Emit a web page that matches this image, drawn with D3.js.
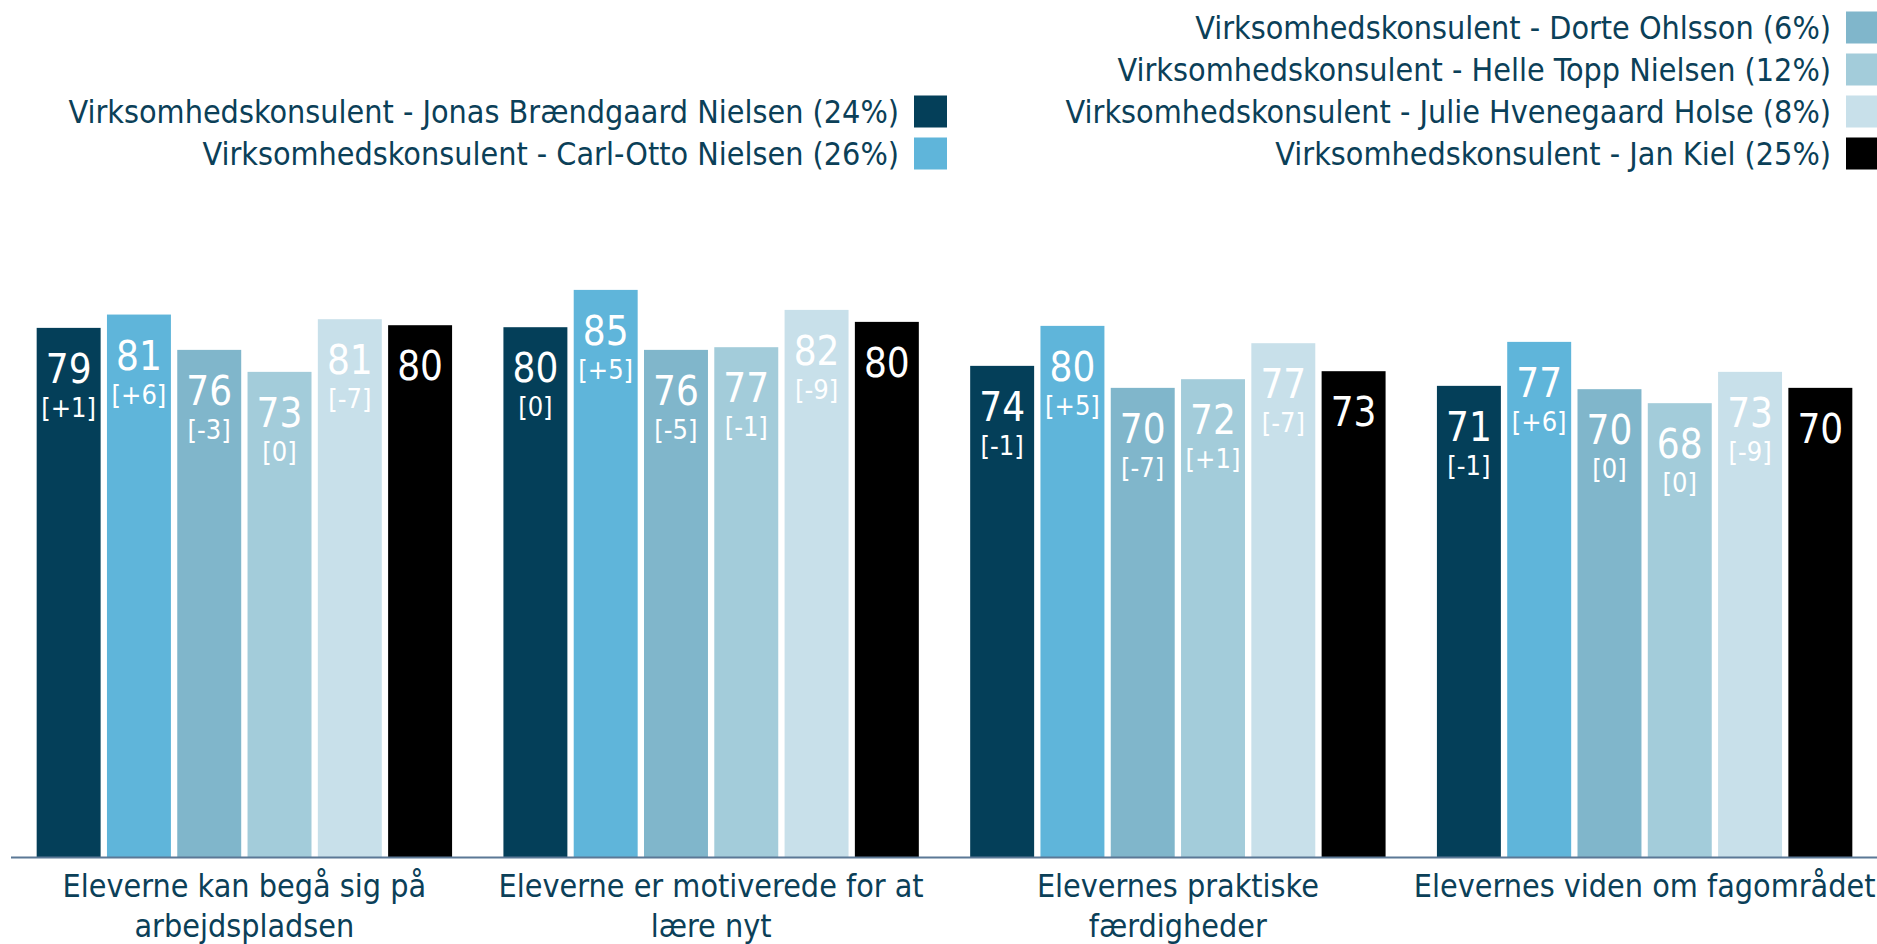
<!DOCTYPE html>
<html lang="da">
<head>
    <meta charset="UTF-8">
    <title>Virksomhedskonsulenter</title>
    <script src="https://cdn.jsdelivr.net/npm/d3@7/dist/d3.min.js"></script>
    <style>
        body{margin: 0; background: #fff}
        svg text{
            font-family: "DejaVu Sans Condensed", "DejaVu Sans", sans-serif;
            font-stretch: condensed;
        }
        .legend text, .cat text{fill: #0b4058; font-size: 32px}
        .val{fill: #fff; font-size: 40px}
        .delta{fill: #fff; font-size: 27px}
    </style>
</head>
<body>
    <svg></svg>
    <script>
        // categories on the x axis (\n = line break in the label)
        var categories = [
            'Eleverne kan begå sig på\narbejdspladsen',
            'Eleverne er motiverede for at\nlære nyt',
            'Elevernes praktiske\nfærdigheder',
            'Elevernes viden om fagområdet'
        ]
        var seriesNames = [
            'Virksomhedskonsulent - Jonas Brændgaard Nielsen (24%)',
            'Virksomhedskonsulent - Carl-Otto Nielsen (26%)',
            'Virksomhedskonsulent - Dorte Ohlsson (6%)',
            'Virksomhedskonsulent - Helle Topp Nielsen (12%)',
            'Virksomhedskonsulent - Julie Hvenegaard Holse (8%)',
            'Virksomhedskonsulent - Jan Kiel (25%)'
        ]
        var colors = ['#043f59', '#5fb5da', '#80b6cb', '#a3ccda', '#c8e0ea', '#000000']

        // one value list per consultant (order follows categories)
        var jonas    = [79.4, 79.5, 73.7, 70.7]
        var carlOtto = [81.4, 85.1, 79.7, 77.3]
        var dorte    = [76.1, 76.1, 70.4, 70.2]
        var helle    = [72.8, 76.5, 71.7, 68.1]
        var julie    = [80.7, 82.1, 77.1, 72.8]
        var janKiel  = [79.8, 80.3, 72.9, 70.4]

        // change since last time, null = not shown
        var jonasDelta    = ['+1', '0', '-1', '-1']
        var carlOttoDelta = ['+6', '+5', '+5', '+6']
        var dorteDelta    = ['-3', '-5', '-7', '0']
        var helleDelta    = ['0', '-1', '+1', '0']
        var julieDelta    = ['-7', '-9', '-7', '-9']
        var janKielDelta  = [null, null, null, null]

        var values = [jonas, carlOtto, dorte, helle, julie, janKiel]
        var deltas = [jonasDelta, carlOttoDelta, dorteDelta, helleDelta, julieDelta, janKielDelta]

        var width = 1877, height = 944
        var baseY = 857

        var svg = d3.select('svg')
            .attr('width', width)
            .attr('height', height)

        // scales
        var x0 = d3.scaleBand()
            .domain(categories)
            .range([11, 1878])
            .paddingInner(0.11)
            .paddingOuter(0.055)
        var x1 = d3.scaleBand()
            .domain(d3.range(seriesNames.length))
            .range([0, x0.bandwidth()])
            .paddingInner(0.09)
        var y = d3.scaleLinear()
            .domain([0, 100])
            .range([baseY, 190.6])

        // bars
        var groups = svg.append('g').selectAll('g')
            .data(categories)
            .enter()
            .append('g')
            .attr('transform', d => `translate(${x0(d)},0)`)

        var cells = groups.selectAll('g')
            .data((c, ci) => values.map((s, si) => ({si: si, v: s[ci], d: deltas[si][ci]})))
            .enter()
            .append('g')

        cells.append('rect')
            .attr('x', d => x1(d.si))
            .attr('y', d => y(d.v))
            .attr('width', x1.bandwidth())
            .attr('height', d => baseY - y(d.v))
            .attr('fill', d => colors[d.si])

        cells.append('text')
            .attr('class', 'val')
            .attr('text-anchor', 'middle')
            .attr('x', d => x1(d.si) + x1.bandwidth() / 2)
            .attr('y', d => y(d.v) + 55)
            .text(d => Math.round(d.v))

        cells.filter(d => d.d !== null)
            .append('text')
            .attr('class', 'delta')
            .attr('text-anchor', 'middle')
            .attr('x', d => x1(d.si) + x1.bandwidth() / 2)
            .attr('y', d => y(d.v) + 89)
            .text(d => '[' + d.d + ']')

        // axis line
        svg.append('line')
            .attr('x1', 11).attr('x2', width)
            .attr('y1', baseY + 0.5).attr('y2', baseY + 0.5)
            .attr('stroke', '#5b7896')
            .attr('stroke-width', 2)

        // category labels
        svg.append('g').attr('class', 'cat')
            .selectAll('text')
            .data(categories)
            .enter()
            .append('text')
            .attr('text-anchor', 'middle')
            .attr('y', 897)
            .each(function(c) {
                var cx = x0(c) + x0.bandwidth() / 2
                d3.select(this).selectAll('tspan')
                    .data(c.split('\n'))
                    .enter()
                    .append('tspan')
                    .attr('x', cx)
                    .attr('dy', (l, i) => i ? 40 : 0)
                    .text(l => l)
            })

        // legend: two right-aligned columns, bottom-aligned
        var legendCols = [
            {right: 914, items: [0, 1]},
            {right: 1846, items: [2, 3, 4, 5]}
        ]
        var rowH = 42, lastRow = 153.5
        var legend = svg.append('g').attr('class', 'legend')
        legendCols.forEach(function(col) {
            col.items.forEach(function(si, k) {
                var cy = lastRow - (col.items.length - 1 - k) * rowH
                legend.append('rect')
                    .attr('x', col.right)
                    .attr('y', cy - 16)
                    .attr('width', 33)
                    .attr('height', 32)
                    .attr('fill', colors[si])
                legend.append('text')
                    .attr('text-anchor', 'end')
                    .attr('x', col.right - 15)
                    .attr('y', cy)
                    .attr('dy', '0.36em')
                    .text(seriesNames[si])
            })
        })
    </script>
</body>
</html>
